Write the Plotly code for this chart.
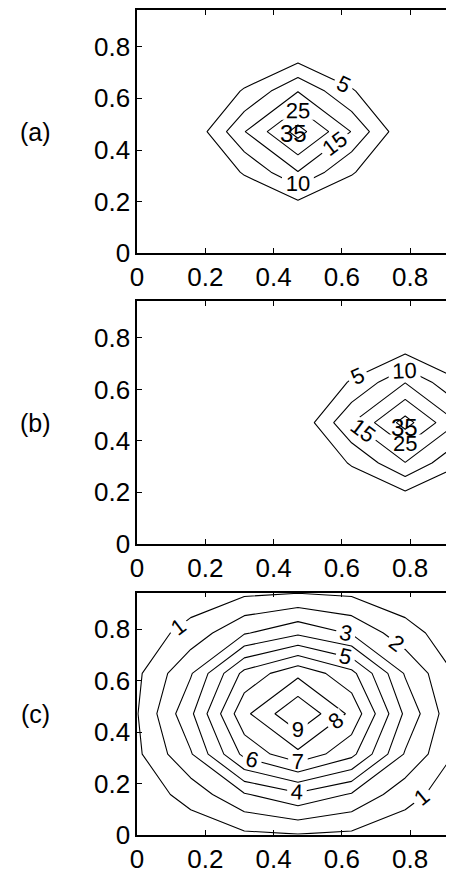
import plotly.graph_objects as go

# grid coordinates (x and y identical), 7 x 7 grid
grid = [0.0, 0.1571, 0.3142, 0.4712, 0.6283, 0.7854, 0.9425]

# panel (a): peak at centre
z_a = [
    [0.00, 0.00, 0.00, 0.01, 0.00, 0.00, 0.00],
    [0.00, 0.02, 0.30, 0.80, 0.30, 0.02, 0.00],
    [0.00, 0.30, 5.40, 14.6, 5.40, 0.30, 0.00],
    [0.01, 0.80, 14.6, 39.0, 14.6, 0.80, 0.01],
    [0.00, 0.30, 5.40, 14.6, 5.40, 0.30, 0.00],
    [0.00, 0.02, 0.30, 0.80, 0.30, 0.02, 0.00],
    [0.00, 0.00, 0.00, 0.01, 0.00, 0.00, 0.00],
]
# panel (b): same peak shifted to the right
z_b = [
    [0.00, 0.00, 0.00, 0.00, 0.00, 0.01, 0.00],
    [0.00, 0.00, 0.00, 0.02, 0.30, 0.80, 0.30],
    [0.00, 0.00, 0.00, 0.30, 5.40, 14.6, 5.40],
    [0.00, 0.00, 0.01, 0.80, 14.6, 39.0, 14.6],
    [0.00, 0.00, 0.00, 0.30, 5.40, 14.6, 5.40],
    [0.00, 0.00, 0.00, 0.02, 0.30, 0.80, 0.30],
    [0.00, 0.00, 0.00, 0.00, 0.00, 0.01, 0.00],
]
# panel (c): broad field
z_c = [
    [0.10, 0.38, 0.80, 0.95, 0.80, 0.38, 0.10],
    [0.38, 1.38, 2.90, 3.80, 2.90, 1.38, 0.38],
    [0.80, 2.90, 6.30, 7.75, 6.30, 2.90, 0.80],
    [0.95, 3.80, 7.75, 9.94, 7.75, 3.80, 0.95],
    [0.80, 2.90, 6.30, 7.75, 6.30, 2.90, 0.80],
    [0.38, 1.38, 2.90, 3.80, 2.90, 1.38, 0.38],
    [0.10, 0.38, 0.80, 0.95, 0.80, 0.38, 0.10],
]

levels_ab = [5, 10, 15, 25, 35]
levels_c = [1, 2, 3, 4, 5, 6, 7, 8, 9]
panel_labels = ["(a)", "(b)", "(c)"]
tick_vals = [0, 0.2, 0.4, 0.6, 0.8]
tick_text = ["0", "0.2", "0.4", "0.6", "0.8"]
# peak-level label positions for the small innermost contours of (a) and (b)
peak_label = "35"
peak_pos_a = (0.459, 0.465)
peak_pos_b = (0.782, 0.452)

FONT = "Liberation Sans, Arial, Helvetica, sans-serif"
W, H = 454, 885
OFF = 8  # page body margin offset

fig = go.Figure()


def add_levels(z, levels, axis_idx):
    sfx = "" if axis_idx == 1 else str(axis_idx)
    for lv in levels:
        fig.add_trace(go.Contour(
            x=grid, y=grid, z=z,
            autocontour=False,
            contours=dict(start=lv, end=lv, size=1, coloring="none",
                          showlabels=True,
                          labelfont=dict(family=FONT, size=22, color="black")),
            line=dict(color="black", width=1.1, smoothing=0),
            showscale=False, hoverinfo="skip",
            xaxis="x" + sfx, yaxis="y" + sfx,
        ))


add_levels(z_a, levels_ab, 1)
add_levels(z_b, levels_ab, 2)
add_levels(z_c, levels_c, 3)

# pixel geometry of each panel on screen (top, bottom)
panels = [(8, 256), (305, 552.3), (602, 849)]
x_left = 132 - OFF
x_per_unit = 346.7
x_right = x_left + grid[-1] * x_per_unit

axis_common = dict(
    showline=True, linecolor="black", linewidth=1.5,
    ticks="inside", ticklen=5, tickwidth=1, tickcolor="black",
    showgrid=False, zeroline=False,
    tickfont=dict(family=FONT, size=26, color="black"),
    tickvals=tick_vals, ticktext=tick_text,
)

layout = dict(
    width=W, height=H,
    margin=dict(l=0, r=0, t=0, b=0),
    paper_bgcolor="white", plot_bgcolor="white",
    showlegend=False,
    annotations=[],
)
for k, (top, bot) in enumerate(panels):
    top -= OFF
    bot -= OFF
    sfx = "" if k == 0 else str(k + 1)
    layout["xaxis" + sfx] = dict(
        axis_common, domain=[x_left / W, x_right / W], range=[0, grid[-1]],
        anchor="y" + sfx, mirror="ticks",
    )
    layout["yaxis" + sfx] = dict(
        axis_common, domain=[1 - bot / H, 1 - top / H], range=[0, grid[-1]],
        anchor="x" + sfx, mirror=False,
    )
    ymid = bot - 0.471 * (bot - top) / grid[-1]
    layout["annotations"].append(dict(
        text=panel_labels[k], x=(28.5 - OFF) / W, y=1 - ymid / H,
        xref="paper", yref="paper", showarrow=False,
        xanchor="center", yanchor="middle",
        font=dict(family=FONT, size=25, color="black"),
    ))

for sfx, (px, py) in (("", peak_pos_a), ("2", peak_pos_b)):
    layout["annotations"].append(dict(
        text=peak_label, x=px, y=py, xref="x" + sfx, yref="y" + sfx,
        showarrow=False, xanchor="center", yanchor="middle",
        font=dict(family=FONT, size=24, color="black"),
    ))

fig.update_layout(**layout)
fig.write_html("out.html")
